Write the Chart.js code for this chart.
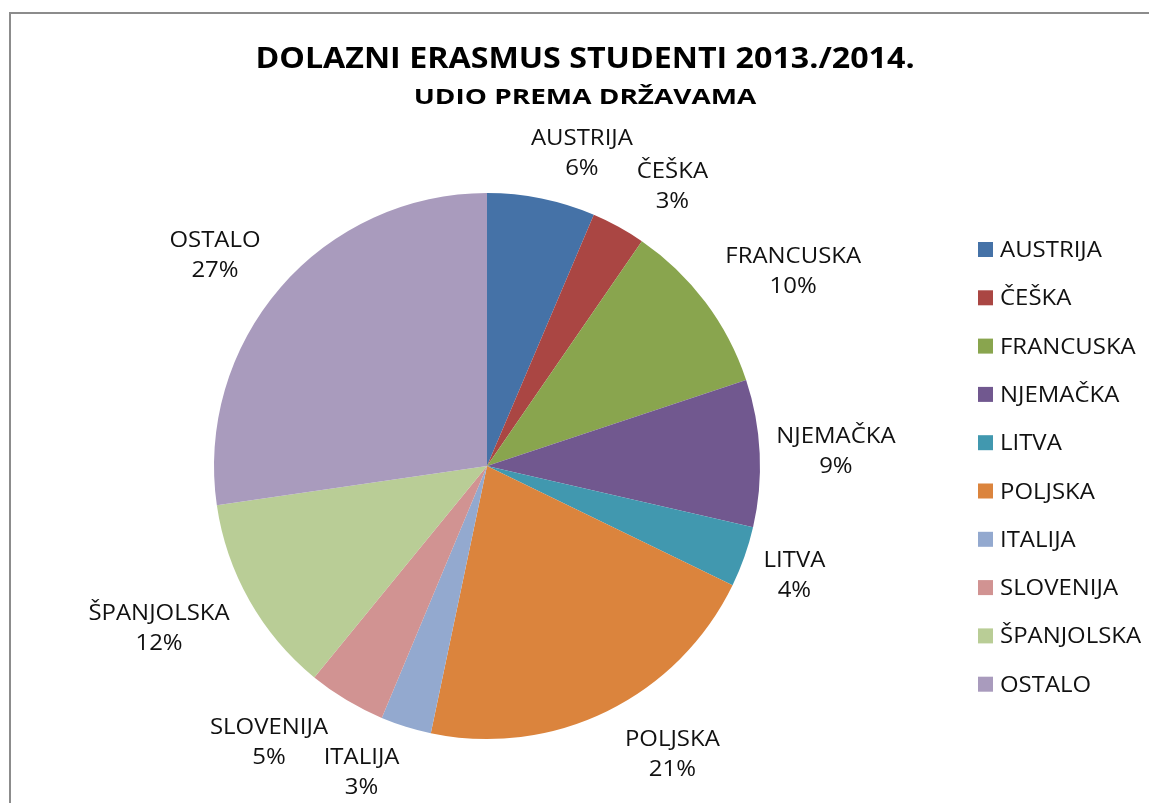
<!DOCTYPE html>
<html>
<head>
<meta charset="utf-8">
<script src="https://cdn.jsdelivr.net/npm/chart.js@4/dist/chart.umd.min.js"></script>
<style>
  html, body { margin: 0; padding: 0; background: #fff; }
  canvas { display: block; }
</style>
</head>
<body>
<canvas id="ErasmusChart" width="1149" height="803"></canvas>
<script>
const countries = ['AUSTRIJA', 'ČEŠKA', 'FRANCUSKA', 'NJEMAČKA', 'LITVA', 'POLJSKA', 'ITALIJA', 'SLOVENIJA', 'ŠPANJOLSKA', 'OSTALO'];
const shares = [6.4, 3.2, 10.3, 8.7, 3.6, 21.1, 3.0, 4.6, 11.8, 27.3];
const sliceColors = ['#4572A7', '#AA4643', '#89A54E', '#71588F', '#4198AF', '#DB843D', '#93A9CF', '#D19392', '#B9CD96', '#A99BBD'];
const titleText = 'DOLAZNI ERASMUS STUDENTI 2013./2014.';
const subtitleText = 'UDIO PREMA DRŽAVAMA';

const FONT = '"Open Sans", "Noto Sans", sans-serif';
const LABEL_FONT = '21px ' + FONT;
const LABEL_SX = 1.14;

// draw text squeezed/stretched horizontally around its anchor
function stretchText(c, text, x, y, sx) {
    c.save();
    c.translate(x, y);
    c.scale(sx, 1);
    c.fillText(text, 0, 0);
    c.restore();
}

// frame, titles and legend
const decorPlugin = {
    id: 'decor',
    beforeDraw(chart) {
        const c = chart.ctx;
        c.save();
        c.fillStyle = '#fff';
        c.fillRect(0, 0, chart.width, chart.height);
        c.strokeStyle = '#8c8c8c';
        c.lineWidth = 2;
        c.strokeRect(10, 13, chart.width + 20, chart.height + 20);
        c.restore();
    },
    afterDraw(chart) {
        const c = chart.ctx;
        c.save();
        c.fillStyle = '#000';
        c.textAlign = 'center';
        c.textBaseline = 'alphabetic';
        c.font = 'bold 28px ' + FONT;
        stretchText(c, titleText, 585, 68, 1.15);
        c.font = 'bold 22px ' + FONT;
        stretchText(c, subtitleText, 585, 104, 1.27);

        // legend
        c.textAlign = 'left';
        c.font = LABEL_FONT;
        countries.forEach((name, i) => {
            const y = 257 + i * 48.3;
            c.fillStyle = sliceColors[i];
            c.fillRect(978, y - 15, 15, 15);
            c.fillStyle = '#111';
            stretchText(c, name, 1000, y, LABEL_SX);
        });
        c.restore();
    }
};

// labels outside the slices
const sliceLabelPlugin = {
    id: 'sliceLabels',
    afterDatasetsDraw(chart) {
        const c = chart.ctx;
        const meta = chart.getDatasetMeta(0);
        const total = shares.reduce((a, b) => a + b, 0);
        const lineH = 30, capH = 15;
        const h = capH + lineH;
        c.save();
        c.font = LABEL_FONT;
        c.fillStyle = '#111';
        c.textAlign = 'center';
        c.textBaseline = 'alphabetic';
        meta.data.forEach((arc, i) => {
            const mid = (arc.startAngle + arc.endAngle) / 2;
            const dx = Math.cos(mid), dy = Math.sin(mid);
            const pct = Math.round(shares[i] / total * 100) + '%';
            const w = Math.max(c.measureText(countries[i]).width, c.measureText(pct).width) * LABEL_SX;
            const ax = arc.x + dx * (arc.outerRadius + 16);
            const ay = arc.y + dy * (arc.outerRadius + 16);
            const f = Math.min(1, Math.abs(dx) * 2.5);
            const cx = ax + Math.sign(dx) * (f * w / 2 + 12 * Math.abs(dy));
            const cy = ay + dy * h / 2 + 8 * Math.sign(dy) * Math.min(1, Math.abs(dy) * 2);
            stretchText(c, countries[i], cx, cy - h / 2 + capH, LABEL_SX);
            stretchText(c, pct, cx, cy + h / 2, LABEL_SX);
        });
        c.restore();
    }
};

const ctx = document.getElementById('ErasmusChart');
new Chart(ctx, {
    type: 'pie',
    data: {
        labels: countries,
        datasets: [{
            label: 'Udio',
            data: shares,
            backgroundColor: sliceColors,
            borderWidth: 0
        }]
    },
    options: {
        responsive: false,
        animation: false,
        devicePixelRatio: 1,
        layout: {
            padding: { left: 214, right: 389, top: 193, bottom: 64 }
        },
        plugins: {
            legend: { display: false },
            tooltip: { enabled: false }
        }
    },
    plugins: [decorPlugin, sliceLabelPlugin]
});
</script>
</body>
</html>
